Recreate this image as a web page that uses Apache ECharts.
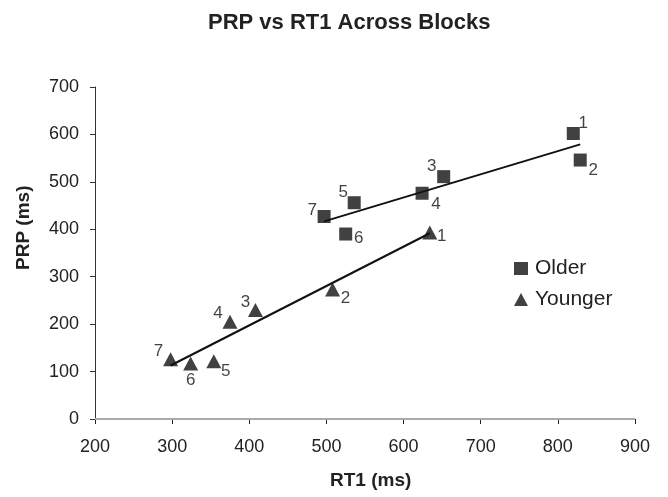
<!DOCTYPE html>
<html>
<head>
<meta charset="utf-8">
<script src="https://cdn.jsdelivr.net/npm/echarts@6/dist/echarts.min.js"></script>
<style>html,body{margin:0;padding:0;background:#fff}#c{width:668px;height:497px}</style>
</head>
<body>
<div id="c"></div>
<script>
// ---- data ----
var blocks = ['1','2','3','4','5','6','7'];
var olderRT1 = [820, 829, 652, 624, 536, 525, 497];
var olderPRP = [602, 546, 511, 476, 456, 390, 427];
var youngerRT1 = [634, 508, 408, 375, 354, 324, 298];
var youngerPRP = [393, 273, 230, 205, 122, 117, 126];
var xTicks = [200, 300, 400, 500, 600, 700, 800, 900];
var yTicks = [0, 100, 200, 300, 400, 500, 600, 700];
// label offsets (px) for block numbers
var olderLabelOffset = [[10,-10],[13,10],[-12,-10],[14,11],[-11,-10],[13,4],[-12,-6]];
var youngerLabelOffset = [[12,4],[13,9],[-10,-8],[-12,-8],[12,10],[0,17],[-12,-8]];

function fit(xs, ys) {
  var n = xs.length, mx = 0, my = 0;
  for (var i = 0; i < n; i++) { mx += xs[i]; my += ys[i]; }
  mx /= n; my /= n;
  var sxy = 0, sxx = 0;
  for (var j = 0; j < n; j++) { sxy += (xs[j]-mx)*(ys[j]-my); sxx += (xs[j]-mx)*(xs[j]-mx); }
  var b = sxy / sxx, a = my - b*mx;
  var lo = Math.min.apply(null, xs), hi = Math.max.apply(null, xs);
  return [[lo, a + b*lo], [hi, a + b*hi]];
}
function pts(xs, ys, offs) {
  return xs.map(function (x, i) {
    return { value: [x, ys[i]], name: blocks[i],
      label: { offset: offs[i] } };
  });
}
var FONT = '"Liberation Sans", Arial, Helvetica, sans-serif';
var chart = echarts.init(document.getElementById('c'), null, {renderer: 'canvas'});
var labelStyle = { show: true, position: 'inside', formatter: '{b}', color: '#111',
  fontSize: 17, fontFamily: FONT, align: 'center', verticalAlign: 'middle' };
chart.setOption({
  animation: false,
  backgroundColor: '#fff',
  title: { text: 'PRP vs RT1 Across Blocks', left: 203, top: 7,
    textStyle: { fontSize: 22, fontWeight: 'bold', color: '#222', fontFamily: FONT } },
  grid: { left: 95, right: 33, top: 87, bottom: 78 },
  xAxis: { type: 'value', min: xTicks[0], max: xTicks[xTicks.length-1], interval: 100,
    axisLine: { show: false },
    axisTick: { show: true, length: 5, lineStyle: { color: '#222', width: 1 } },
    axisLabel: { fontSize: 18, color: '#222', fontFamily: FONT, margin: 19 },
    splitLine: { show: false } },
  yAxis: { type: 'value', min: yTicks[0], max: yTicks[yTicks.length-1], interval: 100,
    axisLine: { show: true, lineStyle: { color: '#333', width: 1 } },
    axisTick: { show: true, length: 5, lineStyle: { color: '#333', width: 1 } },
    axisLabel: { fontSize: 18, color: '#222', fontFamily: FONT, margin: 16 },
    splitLine: { show: false } },
  legend: { orient: 'vertical', left: 514, top: 258, padding: 0, itemGap: 10, itemWidth: 14, itemHeight: 13,
    data: [{ name: 'Older', icon: 'rect' }, { name: 'Younger', icon: 'triangle' }],
    textStyle: { fontSize: 21, color: '#222', fontFamily: FONT, padding: [0,0,0,2] } },
  graphic: [
    { type: 'text', left: 330, top: 471, style: { text: 'RT1 (ms)',
      font: 'bold 19px ' + FONT, fill: '#222' } },
    { type: 'text', x: 14, y: 270, rotation: Math.PI/2,
      style: { text: 'PRP (ms)', font: 'bold 19px ' + FONT, fill: '#222' } }
  ],
  series: [
    { type: 'line', data: [[xTicks[0], 0], [xTicks[xTicks.length-1], 0]], symbol: 'none', silent: true,
      lineStyle: { color: '#aaa', width: 2 }, z: 1 },
    { name: 'Older', type: 'scatter', symbol: 'rect', symbolSize: 13,
      itemStyle: { color: '#111' }, data: pts(olderRT1, olderPRP, olderLabelOffset), label: labelStyle, z: 5 },
    { name: 'Younger', type: 'scatter', symbol: 'triangle', symbolSize: [15, 14],
      itemStyle: { color: '#111' }, data: pts(youngerRT1, youngerPRP, youngerLabelOffset), label: labelStyle, z: 5 },
    { type: 'line', data: fit(olderRT1, olderPRP), symbol: 'none', silent: true,
      lineStyle: { color: '#111', width: 2 }, z: 4 },
    { type: 'line', data: fit(youngerRT1, youngerPRP), symbol: 'none', silent: true,
      lineStyle: { color: '#111', width: 2 }, z: 4 }
  ]
});
</script>
</body>
</html>
